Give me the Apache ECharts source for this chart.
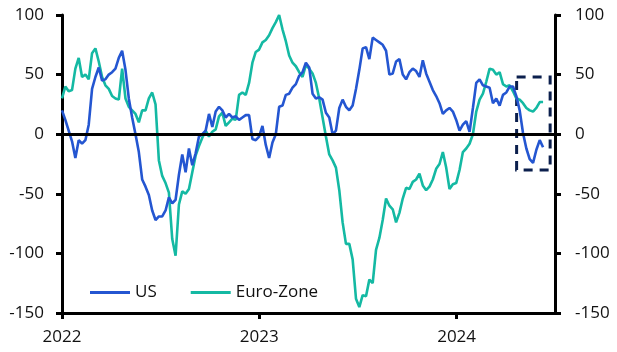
<!DOCTYPE html>
<html>
<head>
<meta charset="utf-8">
<script src="https://cdn.jsdelivr.net/npm/echarts@6/dist/echarts.min.js"></script>
<style>
html,body{margin:0;padding:0;background:#fff;}
#chart{width:617px;height:352px;}
</style>
</head>
<body>
<div id="chart"></div>
<script>
// ---- data (sampled every ~6.18 days starting 2022-01-01) ----
const startDate = '2022-01-01';
const sampleStepDays = 6.18;
const usValues = [
20,12,3,-6,-20,-5,-8,-5,8,38,48,56,45,46,50,52,55,64,70,54,30,14,0,-15,-38,-44,-51,-64,-72,-69,
-69,-64,-53,-58,-55,-34,-17,-32,-12,-26,-16,-2,0,3,17,6,19,23,20,14,17,14,15,12,14,16,16,-4,
-5,-2,7,-9,-20,-7,0,23,24,33,34,39,42,49,52,60,56,34,30,31,29,18,14,0,3,22,29,23,20,
24,38,54,72,73,63,81,79,77,75,70,50,51,61,63,50,46,52,55,53,48,62,51,44,37,32,26,17,
20,22,19,12,3,8,11,2,22,43,46,41,40,39,26,30,24,33,35,40,40,32,20,1,-12,-21,-24,-13,-5,-11
];
const euroValues = [
30,40,36,37,55,64,48,50,46,68,72,61,48,41,38,32,30,29,55,30,23,20,17,10,20,20,30,35,25,-22,
-35,-41,-49,-88,-102,-59,-48,-50,-46,-32,-18,-10,-3,3,-2,2,4,15,18,7,10,13,12,33,35,33,43,60,
69,71,77,79,83,89,94,100,88,78,66,60,57,52,48,58,55,51,43,30,14,-2,-17,-22,-28,-47,-74,-92,-92,
-105,-138,-145,-135,-136,-122,-125,-97,-87,-72,-54,-60,-63,-74,-66,-54,-45,-46,-40,-38,-33,-43,-47,-44,-38,-29,-25,-15,
-28,-46,-42,-41,-30,-15,-12,-8,0,19,29,34,44,55,54,50,52,42,40,41,36,30,29,26,22,20,19,22,27,27
];
const seriesNames = ['US', 'Euro-Zone'];
const yTicks = [-150, -100, -50, 0, 50, 100];
const xTickDates = ['2022-01-01', '2023-01-01', '2024-01-01'];
const xMaxDate = '2024-07-01';
const highlightStart = '2024-04-21';
const highlightEnd = '2024-06-22';
const highlightTop = 48;
const highlightBottom = -30;

// ---- build ----
function t(s){ const p = s.split('-').map(Number); return Date.UTC(p[0], p[1]-1, p[2]); }
const DAY = 86400000;
const t0 = t(startDate);
function toPairs(vals){ return vals.map((v,i)=>[t0 + i*sampleStepDays*DAY, v]); }

const FONT = '"Open Sans", "Noto Sans", sans-serif';
const BLUE = '#2456D1';
const TEAL = '#14B9A3';

const yAxisCommon = {
  type: 'value', min: yTicks[0], max: yTicks[yTicks.length-1], interval: 50,
  axisLine: {show: true, lineStyle: {color: '#000', width: 3}},
  axisTick: {show: true, length: 6, lineStyle: {color: '#000', width: 3}},
  splitLine: {show: false},
  axisLabel: {color: '#111', fontSize: 17, fontFamily: FONT, margin: 18}
};

const chart = echarts.init(document.getElementById('chart'), null, {renderer: 'canvas'});
chart.setOption({
  animation: false,
  grid: {left: 62, right: 62, top: 15, bottom: 39, containLabel: false},
  legend: {
    data: seriesNames,
    left: 85, top: 279,
    icon: 'rect', itemWidth: 40, itemHeight: 3, itemGap: 34,
    textStyle: {color: '#111', fontSize: 17, fontFamily: FONT}
  },
  xAxis: {
    type: 'value', min: t(startDate), max: t(xMaxDate), scale: true,
    axisLine: {onZero: false, lineStyle: {color: '#000', width: 3}},
    axisTick: {show: true, length: 6, lineStyle: {color: '#000', width: 3}, customValues: xTickDates.map(t)},
    axisLabel: {color: '#111', fontSize: 17, fontFamily: FONT, margin: 16,
      customValues: xTickDates.map(t),
      formatter: v => String(new Date(v).getUTCFullYear())},
    splitLine: {show: false}
  },
  yAxis: [
    Object.assign({}, yAxisCommon, {position: 'left'}),
    Object.assign({}, yAxisCommon, {position: 'right', axisLabel: Object.assign({}, yAxisCommon.axisLabel, {margin: 20})})
  ],
  series: [
    {
      name: seriesNames[0], type: 'line', data: toPairs(usValues),
      showSymbol: false, symbol: 'none', color: BLUE,
      lineStyle: {color: BLUE, width: 2.6}, z: 3
    },
    {
      name: seriesNames[1], type: 'line', data: toPairs(euroValues),
      showSymbol: false, symbol: 'none', color: TEAL,
      lineStyle: {color: TEAL, width: 2.6}, z: 2
    },
    {
      name: 'zero', type: 'line', data: [], z: 5,
      markLine: {silent: true, symbol: 'none', label: {show: false},
        lineStyle: {color: '#000', width: 3, type: 'solid'},
        data: [{yAxis: 0}]},
      markArea: {silent: true,
        itemStyle: {color: 'rgba(0,0,0,0)', borderColor: '#0B1F4D', borderWidth: 3, borderType: [9, 7]},
        data: [[{xAxis: t(highlightStart), yAxis: highlightTop}, {xAxis: t(highlightEnd), yAxis: highlightBottom}]]}
    }
  ]
});
</script>
</body>
</html>
